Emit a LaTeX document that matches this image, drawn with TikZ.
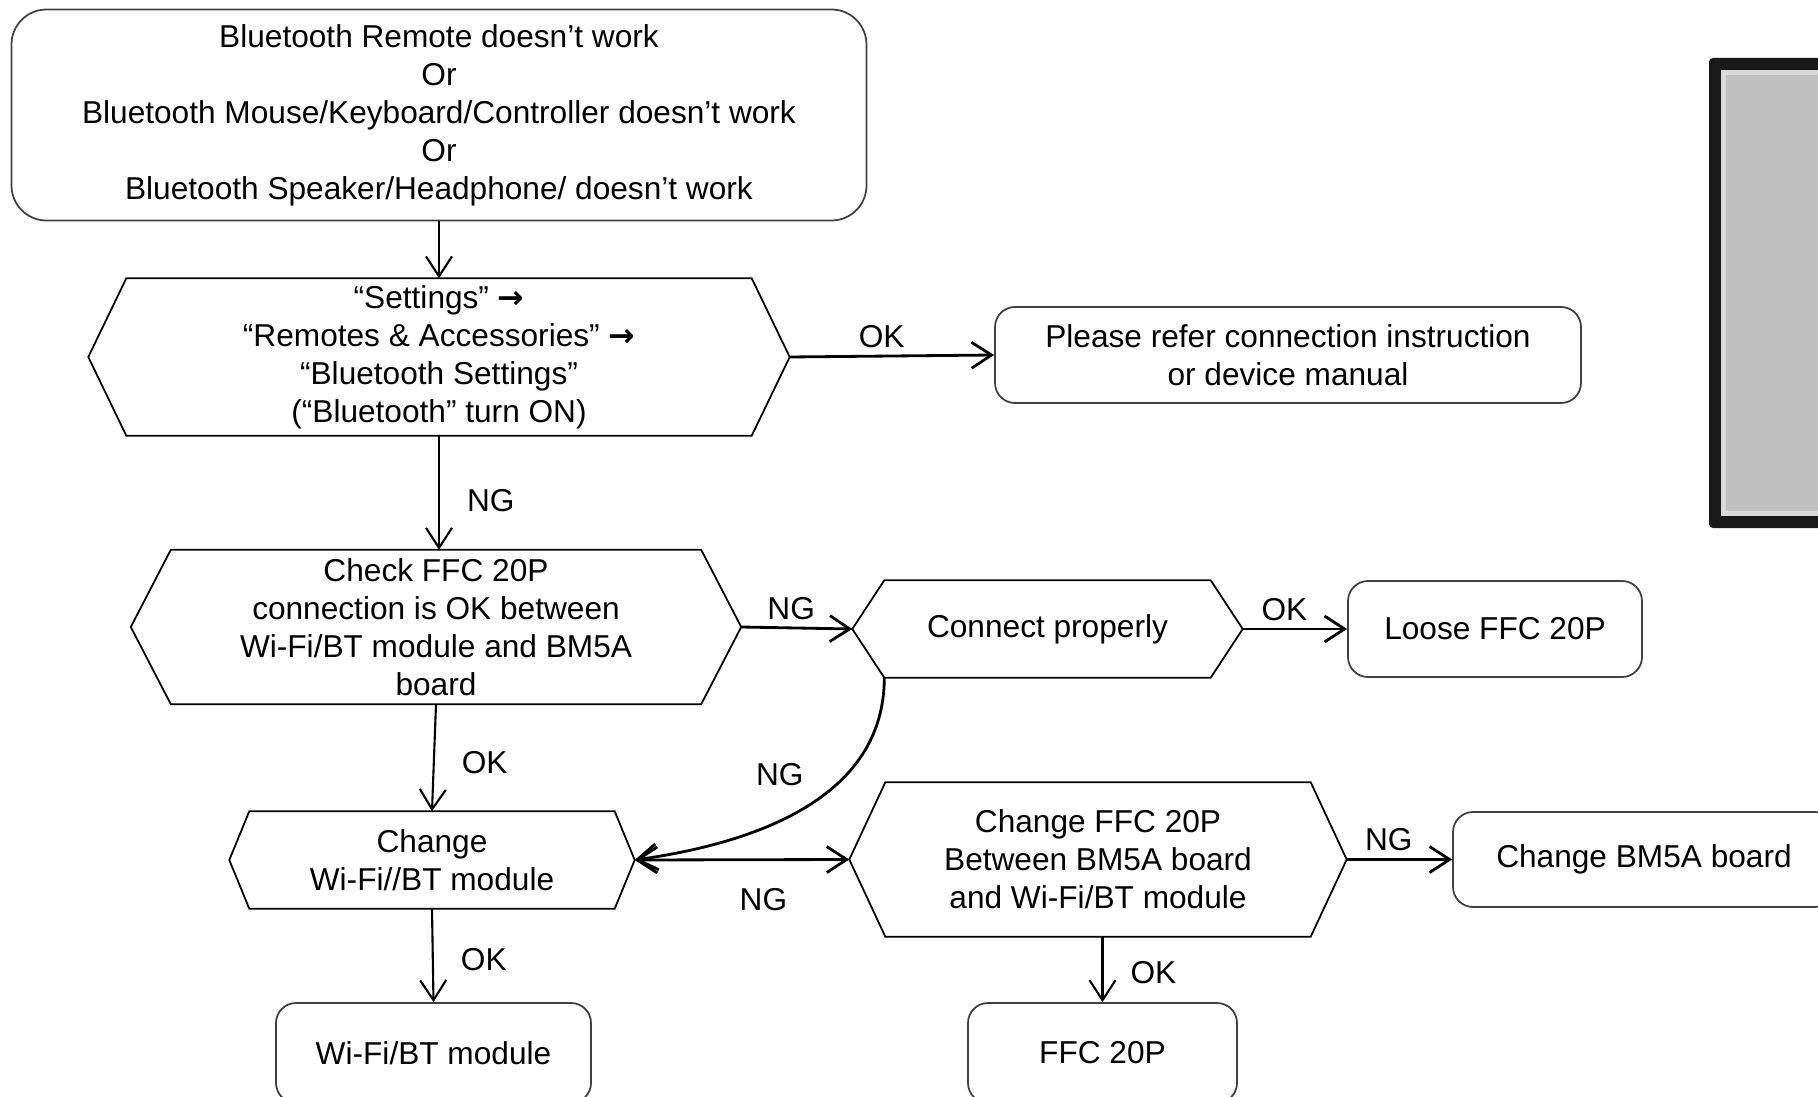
\documentclass[tikz,border=0pt]{standalone}
\usepackage{fontspec}
\setmainfont{Liberation Sans}
\newfontfamily\arrowfont{DejaVu Sans}
\usetikzlibrary{arrows.meta,positioning}

% outline of a hexagon round a named node, #2 = slant inset
\newcommand{\hexframe}[2]{%
  \draw[hexedge] (#1.west) -- ([xshift=#2]#1.north west) -- ([xshift=-#2]#1.north east)
    -- (#1.east) -- ([xshift=-#2]#1.south east) -- ([xshift=#2]#1.south west) -- cycle;}

\begin{document}
\begin{tikzpicture}[every node/.style={font=\fontsize{9}{10.8}\selectfont},
  >={Straight Barb[length=2mm,width=2.6mm]},
  box/.style={draw=black!75,line width=0.5pt,rounded corners=0.2cm,align=center},
  hexbox/.style={inner sep=0pt,align=center},
  hexedge/.style={draw=black,line width=0.5pt},
  flow/.style={->,line width=0.6pt},
  side/.style={line width=0.8pt},
  tag/.style={inner sep=2pt}]
  \useasboundingbox (0,0) rectangle (18.18,10.96);
  \clip (0,0) rectangle (18.18,10.96);

  % screen picture at the right edge
  \fill[black!90,rounded corners=0.04cm] (17.09,5.68) rectangle (18.6,10.38);
  \fill[gray!30] (17.21,5.80) rectangle (18.6,10.26);
  \fill[gray!50] (17.26,5.85) rectangle (18.6,10.21);

  \node[box,rounded corners=0.35cm,minimum width=8.55cm,minimum height=2.11cm] (top) at (4.39,9.81)
    {Bluetooth Remote doesn’t work\\Or\\Bluetooth Mouse/Keyboard/Controller doesn’t work\\Or\\Bluetooth Speaker/Headphone/ doesn’t work};
  \node[hexbox,minimum width=7.0cm,minimum height=1.56cm] (settings) at (4.39,7.39)
    {“Settings” {\arrowfont\bfseries →}\\“Remotes \& Accessories” {\arrowfont\bfseries →}\\“Bluetooth Settings”\\(“Bluetooth” turn ON)};
  \hexframe{settings}{0.38cm}
  \node[box,minimum width=5.86cm,minimum height=0.96cm] (refer) at (12.88,7.41)
    {Please refer connection instruction\\or device manual};
  \node[hexbox,minimum width=6.09cm,minimum height=1.53cm] (check) at (4.36,4.69)
    {Check FFC 20P\\connection is OK between\\Wi-Fi/BT module and BM5A\\board};
  \hexframe{check}{0.40cm}
  \node[hexbox,minimum width=3.89cm,minimum height=0.96cm] (connect) at (10.475,4.67) {Connect properly};
  \hexframe{connect}{0.32cm}
  \node[box,minimum width=2.94cm,minimum height=0.96cm] (loose) at (14.95,4.67) {Loose FFC 20P};
  \node[hexbox,minimum width=4.04cm,minimum height=0.96cm] (chgmod) at (4.32,2.36) {Change\\Wi-Fi//BT module};
  \hexframe{chgmod}{0.20cm}
  \node[hexbox,minimum width=4.96cm,minimum height=1.53cm] (chgffc) at (10.98,2.365)
    {Change FFC 20P\\Between BM5A board\\and Wi-Fi/BT module};
  \hexframe{chgffc}{0.36cm}
  \node[box,minimum width=3.82cm,minimum height=0.95cm] (bm5a) at (16.44,2.365) {Change BM5A board};
  \node[box,minimum width=3.15cm,minimum height=1.0cm] (module) at (4.335,0.43) {Wi-Fi/BT module};
  \node[box,minimum width=2.69cm,minimum height=1.0cm] (ffc) at (11.025,0.43) {FFC 20P};

  \draw[flow] (top.south) -- (settings.north);
  \draw[flow,side] (settings.east) -- node[tag,above,pos=0.45] {OK} (refer.west);
  \draw[flow] (settings.south) -- node[tag,right=2mm,pos=0.57] {NG} (settings.south |- check.north);
  \draw[flow,side] (check.east) -- node[tag,above,pos=0.45] {NG} (connect.west);
  \draw[flow,side] (connect.east) -- node[tag,above,pos=0.4] {OK} (loose.west);
  \draw[flow] (check.south) -- node[tag,right=2mm,pos=0.55] {OK} (chgmod.north);
  \draw[flow,side] ([xshift=0.32cm]connect.south west) to[out=-90,in=8]
    node[tag,pos=0.33,left=3.5mm] {NG} (chgmod.east);
  \draw[flow,side,<->] (chgmod.east) -- node[tag,pos=0.6,below=2mm] {NG} (chgffc.west);
  \draw[flow,side] (chgffc.east) -- node[tag,above,pos=0.4] {NG} (bm5a.west);
  \draw[flow] (chgmod.south) -- node[tag,right=2mm,pos=0.55] {OK} (module.north);
  \draw[flow] (chgffc.south -| ffc.north) -- node[tag,right=2mm,pos=0.55] {OK} (ffc.north);
\end{tikzpicture}
\end{document}
